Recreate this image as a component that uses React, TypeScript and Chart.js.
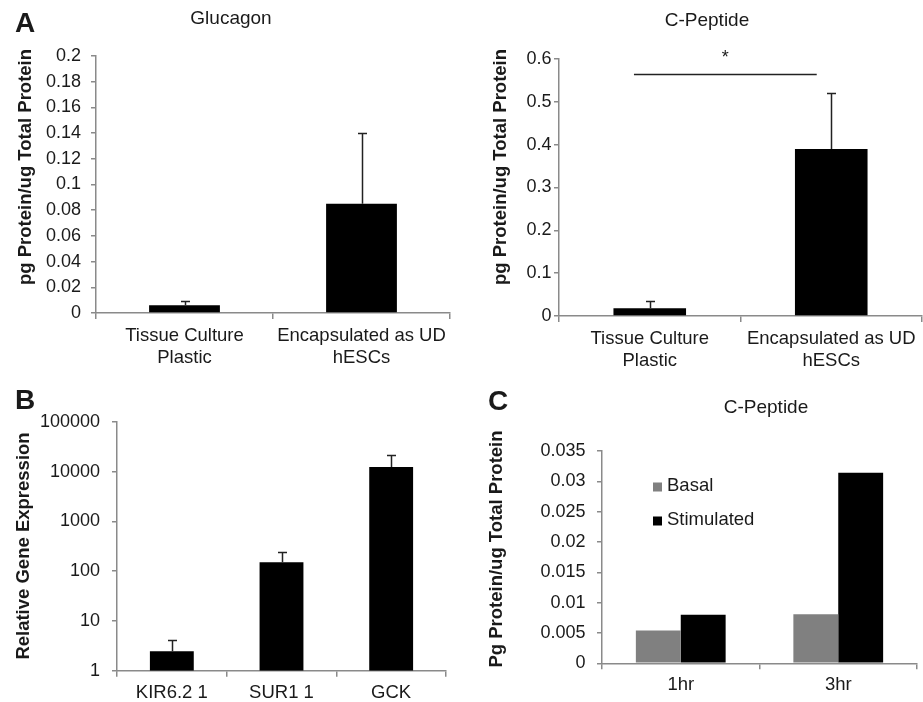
import React, { useEffect, useRef } from "react";
import { Chart, registerables } from "chart.js";

Chart.register(...registerables);

const FONT = "'Liberation Sans', Arial, Helvetica, sans-serif";
const AXIS_COLOR = "#8a8a8a";
const TEXT_COLOR = "#1a1a1a";

// ---- Panel A (left): Glucagon ----
const glucagonLabels = [["Tissue Culture", "Plastic"], ["Encapsulated as UD", "hESCs"]];
const glucagonValues = [0.006, 0.085];
const glucagonErrors = [0.0037, 0.055];
const glucagonTicks = [0, 0.02, 0.04, 0.06, 0.08, 0.1, 0.12, 0.14, 0.16, 0.18, 0.2];

// ---- Panel A (right): C-Peptide ----
const cpeptideLabels = [["Tissue Culture", "Plastic"], ["Encapsulated as UD", "hESCs"]];
const cpeptideValues = [0.018, 0.39];
const cpeptideErrors = [0.016, 0.131];
const cpeptideTicks = [0, 0.1, 0.2, 0.3, 0.4, 0.5, 0.6];
const sigStart = -0.087; // category index
const sigEnd = 0.92; // category index
const sigValue = 0.565;

// ---- Panel B: gene expression (log) ----
const geneLabels = ["KIR6.2 1", "SUR1 1", "GCK"];
const geneValues = [2.45, 152, 12400];
const geneErrors = [1.65, 93, 9600];
const geneTicks = [1, 10, 100, 1000, 10000, 100000];

// ---- Panel C: C-Peptide basal vs stimulated ----
const timeLabels = ["1hr", "3hr"];
const basalValues = [0.0054, 0.0081];
const stimulatedValues = [0.008, 0.0314];
const timeTicks = [0, 0.005, 0.01, 0.015, 0.02, 0.025, 0.03, 0.035];

type TextItem = {
  text: string;
  x: number;
  y: number;
  font: string;
  align?: CanvasTextAlign;
  rotate?: boolean;
};

type DecorCfg = {
  texts: TextItem[];
  errors?: number[];
  sig?: { start: number; end: number; value: number };
  legend?: { x: number; y: number; gap: number; box: number; font: string };
};

function makeDecor(cfg: DecorCfg) {
  return {
    id: "decor",
    afterDatasetsDraw(chart: any) {
      const ctx = chart.ctx as CanvasRenderingContext2D;
      const yScale = chart.scales.y;
      const xScale = chart.scales.x;
      ctx.save();
      if (cfg.errors) {
        const meta = chart.getDatasetMeta(0);
        const vals = chart.data.datasets[0].data as number[];
        ctx.strokeStyle = "#222";
        ctx.lineWidth = 1.5;
        meta.data.forEach((el: any, i: number) => {
          const x = Math.round(el.x) + 0.5;
          const y0 = yScale.getPixelForValue(vals[i]);
          const y1 = Math.round(yScale.getPixelForValue(vals[i] + cfg.errors![i])) + 0.5;
          ctx.beginPath();
          ctx.moveTo(x, y0);
          ctx.lineTo(x, y1);
          ctx.moveTo(x - 4.5, y1);
          ctx.lineTo(x + 4.5, y1);
          ctx.stroke();
        });
      }
      if (cfg.sig) {
        const p0 = xScale.getPixelForValue(0);
        const p1 = xScale.getPixelForValue(1);
        const xa = p0 + cfg.sig.start * (p1 - p0);
        const xb = p0 + cfg.sig.end * (p1 - p0);
        const y = Math.round(yScale.getPixelForValue(cfg.sig.value)) + 0.5;
        ctx.strokeStyle = "#222";
        ctx.lineWidth = 1.5;
        ctx.beginPath();
        ctx.moveTo(xa, y);
        ctx.lineTo(xb, y);
        ctx.stroke();
        ctx.fillStyle = TEXT_COLOR;
        ctx.font = `18px ${FONT}`;
        ctx.textAlign = "center";
        ctx.textBaseline = "alphabetic";
        ctx.fillText("*", (xa + xb) / 2, y - 12);
      }
      if (cfg.legend) {
        const lg = cfg.legend;
        ctx.font = lg.font;
        ctx.textAlign = "left";
        ctx.textBaseline = "middle";
        chart.data.datasets.forEach((ds: any, i: number) => {
          const cy = lg.y + i * lg.gap;
          ctx.fillStyle = ds.backgroundColor;
          ctx.fillRect(lg.x, cy - lg.box / 2 + 1, lg.box, lg.box);
          ctx.fillStyle = TEXT_COLOR;
          ctx.fillText(ds.label, lg.x + lg.box + 5, cy);
        });
      }
      ctx.restore();
    },
    afterDraw(chart: any) {
      const ctx = chart.ctx as CanvasRenderingContext2D;
      ctx.save();
      ctx.fillStyle = TEXT_COLOR;
      ctx.textBaseline = "alphabetic";
      cfg.texts.forEach((t) => {
        ctx.save();
        ctx.font = t.font;
        ctx.textAlign = t.align || "center";
        ctx.translate(t.x, t.y);
        if (t.rotate) ctx.rotate(-Math.PI / 2);
        ctx.fillText(t.text, 0, 0);
        ctx.restore();
      });
      ctx.restore();
    },
  };
}

type PanelProps = {
  left: number;
  top: number;
  width: number;
  height: number;
  build: () => any;
};

function Panel({ left, top, width, height, build }: PanelProps) {
  const ref = useRef<HTMLCanvasElement | null>(null);
  useEffect(() => {
    if (!ref.current) return;
    const chart = new Chart(ref.current, build());
    return () => chart.destroy();
  }, []);
  return (
    <canvas
      ref={ref}
      width={width}
      height={height}
      style={{ position: "absolute", left, top, width, height }}
    />
  );
}

const fmt = (v: any) => String(Number(Number(v).toFixed(6)));

function axes(opts: {
  yWidth: number;
  xHeight: number;
  ticks: number[];
  min: number;
  max: number;
  yPad: number;
  xPad: number;
  log?: boolean;
}) {
  return {
    x: {
      type: "category",
      offset: true,
      grid: {
        offset: true,
        drawOnChartArea: false,
        drawTicks: true,
        tickLength: 6,
        color: AXIS_COLOR,
        lineWidth: 1.5,
      },
      border: { display: true, color: AXIS_COLOR, width: 1.5 },
      ticks: {
        color: TEXT_COLOR,
        font: { family: FONT, size: 18.5, lineHeight: 1.2 },
        padding: opts.xPad,
        maxRotation: 0,
        minRotation: 0,
        autoSkip: false,
      },
      afterFit: (s: any) => {
        s.height = opts.xHeight;
      },
    },
    y: {
      type: opts.log ? "logarithmic" : "linear",
      min: opts.min,
      max: opts.max,
      grid: {
        drawOnChartArea: false,
        drawTicks: true,
        tickLength: 5,
        color: AXIS_COLOR,
        lineWidth: 1.5,
      },
      border: { display: true, color: AXIS_COLOR, width: 1.5 },
      ticks: {
        color: TEXT_COLOR,
        font: { family: FONT, size: 18 },
        padding: opts.yPad,
        autoSkip: false,
        callback: (v: any) => fmt(v),
      },
      afterBuildTicks: (axis: any) => {
        axis.ticks = opts.ticks.map((v) => ({ value: v, major: false }));
      },
      afterFit: (s: any) => {
        s.width = opts.yWidth;
      },
    },
  };
}

const baseOptions = (padding: any, scales: any) => ({
  responsive: false,
  animation: false,
  events: [],
  layout: { padding },
  plugins: { legend: { display: false }, title: { display: false }, tooltip: { enabled: false } },
  scales,
});

const BOLD = (s: number) => `bold ${s}px ${FONT}`;
const REG = (s: number) => `${s}px ${FONT}`;

function buildGlucagon() {
  return {
    type: "bar",
    data: {
      labels: glucagonLabels,
      datasets: [
        {
          label: "Glucagon",
          data: glucagonValues,
          backgroundColor: "#000",
          borderWidth: 0,
          categoryPercentage: 1,
          barPercentage: 0.4,
        },
      ],
    },
    options: baseOptions(
      { top: 56, right: 10, left: 0, bottom: 0 },
      axes({ yWidth: 96, xHeight: 59, ticks: glucagonTicks, min: 0, max: 0.2, yPad: 10, xPad: 6 })
    ),
    plugins: [
      makeDecor({
        errors: glucagonErrors,
        texts: [
          { text: "A", x: 15, y: 31.5, font: BOLD(28), align: "left" },
          { text: "Glucagon", x: 231, y: 24, font: REG(19) },
          { text: "pg Protein/ug Total Protein", x: 31, y: 167, font: BOLD(18.5), rotate: true },
        ],
      }),
    ],
  };
}

function buildCPeptide() {
  return {
    type: "bar",
    data: {
      labels: cpeptideLabels,
      datasets: [
        {
          label: "C-Peptide",
          data: cpeptideValues,
          backgroundColor: "#000",
          borderWidth: 0,
          categoryPercentage: 1,
          barPercentage: 0.4,
        },
      ],
    },
    options: baseOptions(
      { top: 59, right: 1, left: 0, bottom: 0 },
      axes({ yWidth: 99, xHeight: 56, ticks: cpeptideTicks, min: 0, max: 0.6, yPad: 2.5, xPad: 6 })
    ),
    plugins: [
      makeDecor({
        errors: cpeptideErrors,
        sig: { start: sigStart, end: sigEnd, value: sigValue },
        texts: [
          { text: "C-Peptide", x: 247, y: 26, font: REG(19) },
          { text: "pg Protein/ug Total Protein", x: 46, y: 167, font: BOLD(18.5), rotate: true },
        ],
      }),
    ],
  };
}

function buildGene() {
  return {
    type: "bar",
    data: {
      labels: geneLabels,
      datasets: [
        {
          label: "Relative Gene Expression",
          data: geneValues,
          backgroundColor: "#000",
          borderWidth: 0,
          categoryPercentage: 1,
          barPercentage: 0.4,
        },
      ],
    },
    options: baseOptions(
      { top: 50, right: 14, left: 0, bottom: 0 },
      axes({
        yWidth: 117,
        xHeight: 31.3,
        ticks: geneTicks,
        min: 1,
        max: 100000,
        yPad: 12,
        xPad: 5,
        log: true,
      })
    ),
    plugins: [
      makeDecor({
        errors: geneErrors,
        texts: [
          { text: "B", x: 15, y: 37.3, font: BOLD(28), align: "left" },
          { text: "Relative Gene Expression", x: 29, y: 174, font: BOLD(18.5), rotate: true },
        ],
      }),
    ],
  };
}

function buildTime() {
  return {
    type: "bar",
    data: {
      labels: timeLabels,
      datasets: [
        {
          label: "Basal",
          data: basalValues,
          backgroundColor: "#808080",
          borderWidth: 0,
          categoryPercentage: 0.57,
          barPercentage: 1,
        },
        {
          label: "Stimulated",
          data: stimulatedValues,
          backgroundColor: "#000",
          borderWidth: 0,
          categoryPercentage: 0.57,
          barPercentage: 1,
        },
      ],
    },
    options: baseOptions(
      { top: 79, right: 6, left: 0, bottom: 0 },
      axes({ yWidth: 142, xHeight: 38.7, ticks: timeTicks, min: 0, max: 0.035, yPad: 11.5, xPad: 4.6 })
    ),
    plugins: [
      makeDecor({
        legend: { x: 193, y: 114, gap: 34, box: 9, font: REG(18.5) },
        texts: [
          { text: "C", x: 28, y: 38, font: BOLD(28), align: "left" },
          { text: "C-Peptide", x: 306, y: 41, font: REG(19) },
          { text: "Pg Protein/ug Total Protein", x: 41.5, y: 177, font: BOLD(18.5), rotate: true },
        ],
      }),
    ],
  };
}

export default function App() {
  return (
    <div
      style={{
        position: "absolute",
        left: 0,
        top: 0,
        width: 923,
        height: 702,
        background: "#fff",
        overflow: "hidden",
      }}
    >
      <Panel left={0} top={0} width={460} height={372} build={buildGlucagon} />
      <Panel left={460} top={0} width={463} height={372} build={buildCPeptide} />
      <Panel left={0} top={372} width={460} height={330} build={buildGene} />
      <Panel left={460} top={372} width={463} height={330} build={buildTime} />
    </div>
  );
}
